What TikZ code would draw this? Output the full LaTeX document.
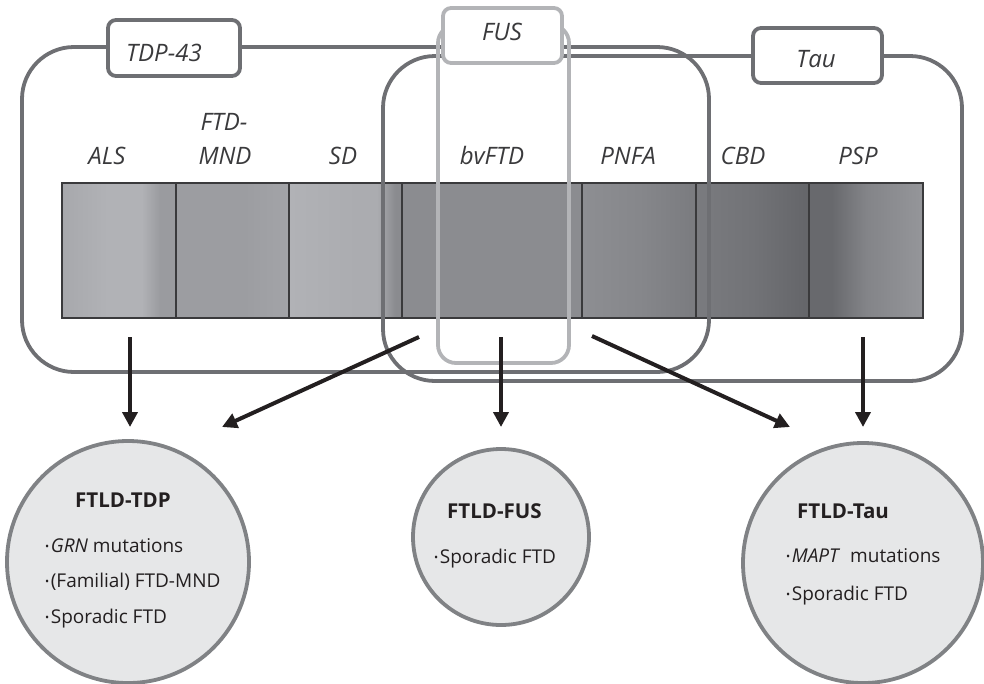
\documentclass[tikz,border=0pt]{standalone}
\usepackage{fontspec}
\setmainfont{Open Sans}
\usetikzlibrary{arrows.meta}
\definecolor{frame}{HTML}{6E6F73}
\definecolor{fusc}{HTML}{B3B4B7}
\definecolor{barline}{HTML}{3A3A3C}
\definecolor{circfill}{HTML}{E6E7E8}
\definecolor{circline}{HTML}{808285}
\definecolor{arrc}{HTML}{231F20}
\definecolor{txt}{HTML}{231F20}
\definecolor{labtxt}{HTML}{3A3A3C}
% cell colours
\definecolor{alsA}{HTML}{A7A8AC}\definecolor{alsB}{HTML}{B1B2B6}\definecolor{alsC}{HTML}{9A9B9F}
\definecolor{mndA}{HTML}{9C9DA1}\definecolor{mndB}{HTML}{A3A4A8}
\definecolor{sdA}{HTML}{B1B2B6}\definecolor{sdB}{HTML}{ABACB0}\definecolor{sdC}{HTML}{8A8B8F}
\definecolor{bvA}{HTML}{8B8C90}
\definecolor{pnA}{HTML}{8D8E92}\definecolor{pnB}{HTML}{86878B}\definecolor{pnC}{HTML}{7A7B7F}
\definecolor{cbA}{HTML}{7A7B7F}\definecolor{cbB}{HTML}{727377}\definecolor{cbC}{HTML}{646569}
\definecolor{psA}{HTML}{68696D}\definecolor{psB}{HTML}{838488}\definecolor{psC}{HTML}{95969A}
\pgfdeclarehorizontalshading{alsshade}{100bp}{color(0bp)=(alsA); color(25bp)=(alsA); color(45bp)=(alsB); color(60bp)=(alsB); color(68bp)=(alsC); color(75bp)=(alsC); color(100bp)=(alsC)}
\pgfdeclarehorizontalshading{mndshade}{100bp}{color(0bp)=(mndA); color(25bp)=(mndA); color(55bp)=(mndA); color(75bp)=(mndB); color(100bp)=(mndB)}
\pgfdeclarehorizontalshading{sdshade}{100bp}{color(0bp)=(sdA); color(25bp)=(sdA); color(55bp)=(sdB); color(64bp)=(sdB); color(72bp)=(sdC); color(75bp)=(sdC); color(100bp)=(sdC)}
\pgfdeclarehorizontalshading{pnshade}{100bp}{color(0bp)=(pnA); color(25bp)=(pnA); color(50bp)=(pnB); color(75bp)=(pnC); color(100bp)=(pnC)}
\pgfdeclarehorizontalshading{cbshade}{100bp}{color(0bp)=(cbA); color(25bp)=(cbA); color(50bp)=(cbB); color(75bp)=(cbC); color(100bp)=(cbC)}
\pgfdeclarehorizontalshading{psshade}{100bp}{color(0bp)=(psA); color(25bp)=(psA); color(35bp)=(psA); color(50bp)=(psB); color(75bp)=(psC); color(100bp)=(psC)}
\newcommand{\bul}{{\fontsize{11}{11}\selectfont\raisebox{0.3ex}{•}}\kern1.5pt}
\begin{document}
\begin{tikzpicture}[x=1pt,y=-1pt,
  cell/.style={draw=barline, line width=1.4pt},
  bigframe/.style={draw=frame, line width=3.8pt, rounded corners=52pt},
  fusframe/.style={draw=fusc, line width=3.8pt, rounded corners=18pt},
  tagbox/.style={draw=frame, fill=white, line width=3.8pt, rounded corners=8pt},
  fustag/.style={draw=fusc, fill=white, line width=3.8pt, rounded corners=8pt},
  lab/.style={font=\fontsize{24}{24}\selectfont\itshape, text=labtxt, anchor=base, inner sep=0pt},
  tagtxt/.style={font=\fontsize{24}{24}\selectfont\itshape, text=labtxt, anchor=base, inner sep=0pt},
  disc/.style={circle, draw=circline, fill=circfill, line width=3.8pt, inner sep=0pt},
  ttl/.style={font=\fontsize{20.5}{20.5}\selectfont\bfseries, text=txt, anchor=base west, inner sep=0pt},
  itm/.style={font=\fontsize{19}{19}\selectfont, text=txt, anchor=base west, inner sep=0pt},
  arr/.style={draw=arrc, line width=4pt, -{Triangle[length=15pt,width=15pt]}}
]
\useasboundingbox (0,0) rectangle (984,683);

% bar cells
\path[cell, shading=alsshade] (62,183) rectangle (176,318);
\path[cell, shading=mndshade] (176,183) rectangle (289,318);
\path[cell, shading=sdshade] (289,183) rectangle (402,318);
\path[cell, fill=bvA] (402,183) rectangle (582,318);
\path[cell, shading=pnshade] (582,183) rectangle (696,318);
\path[cell, shading=cbshade] (696,183) rectangle (809,318);
\path[cell, shading=psshade] (809,183) rectangle (923,318);

% frames
\draw[bigframe] (22,47) rectangle (709,372);
\draw[bigframe] (383,56) rectangle (962,381);
\draw[fusframe] (438,25) rectangle (569,363);

% tags
\draw[tagbox] (108,20) rectangle (240,76);
\draw[tagbox] (753,28) rectangle (882,83);
\draw[fustag] (443,8) rectangle (562,63);
\node[tagtxt] (tdptag) at (164,61) {TDP-43};
\node[tagtxt] (tautag) at (816,67) {Tau};
\node[tagtxt] (fustag) at (502,40) {FUS};

% disease labels
\node[lab] (als) at (107,164) {ALS};
\node[lab] (ftd1) at (224,130) {FTD-};
\node[lab] (mnd) at (225,164) {MND};
\node[lab] (sd) at (343,164) {SD};
\node[lab] (bv) at (492,164) {bvFTD};
\node[lab] (pnfa) at (628,164) {PNFA};
\node[lab] (cbd) at (743,164) {CBD};
\node[lab] (psp) at (858,164) {PSP};

% circles
\node[disc, minimum size=242pt] (ctdp) at (128,562) {};
\node[disc, minimum size=176pt] (cfus) at (501,537) {};
\node[disc, minimum size=240pt] (ctau) at (863,563) {};

\node[ttl] (t1) at (75,507) {FTLD-TDP};
\node[itm] (t1a) at (45,552) {\bul\textit{GRN} mutations};
\node[itm] (t1b) at (45,587) {\bul(Familial) FTD-MND};
\node[itm] (t1c) at (45,623) {\bul Sporadic FTD};

\node[ttl] (t2) at (447,518) {FTLD-FUS};
\node[itm] (t2a) at (434,563) {\bul Sporadic FTD};

\node[ttl] (t3) at (797,518) {FTLD-Tau};
\node[itm] (t3a) at (786,562) {\bul\textit{MAPT}\ \ mutations};
\node[itm] (t3b) at (786,600) {\bul Sporadic FTD};

% arrows
\coordinate (s1) at (130,337); \coordinate (e1) at (130,427);
\coordinate (s2) at (419,337); \coordinate (e2) at (222,427);
\coordinate (s3) at (501,337); \coordinate (e3) at (501,427);
\coordinate (s4) at (592,336); \coordinate (e4) at (790,427);
\coordinate (s5) at (863,337); \coordinate (e5) at (863,427);
\draw[arr] (s1) -- (e1);
\draw[arr] (s2) -- (e2);
\draw[arr] (s3) -- (e3);
\draw[arr] (s4) -- (e4);
\draw[arr] (s5) -- (e5);
\end{tikzpicture}
\end{document}
